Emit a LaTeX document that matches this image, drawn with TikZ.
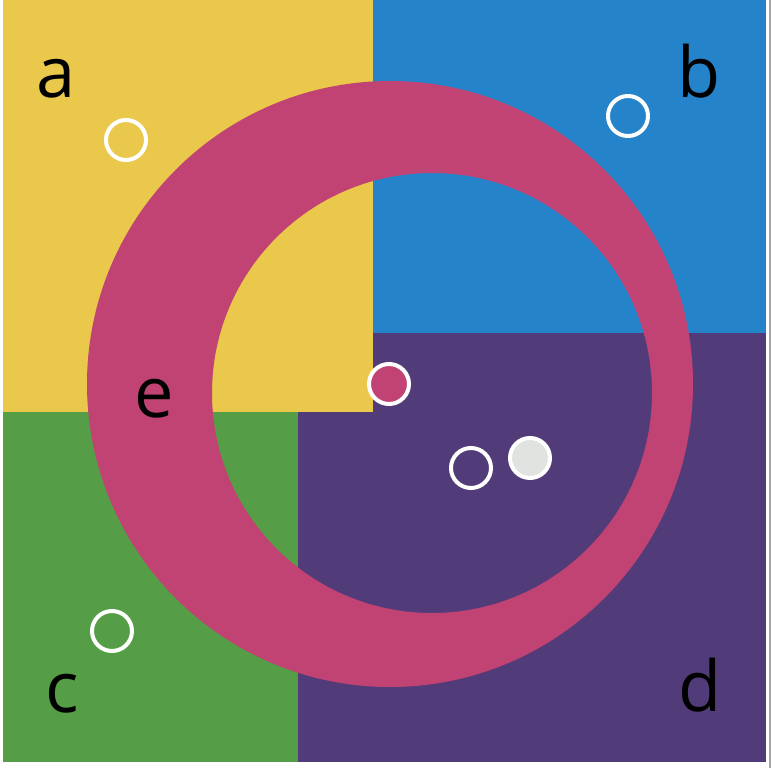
\documentclass[tikz,border=0pt]{standalone}
\usepackage{fontspec}
\setsansfont{Open Sans}
\usepackage{tikz}
\usetikzlibrary{positioning}
\definecolor{zoneA}{RGB}{233,200,75}
\definecolor{zoneB}{RGB}{36,131,201}
\definecolor{zoneC}{RGB}{85,157,70}
\definecolor{zoneD}{RGB}{82,59,121}
\definecolor{ringE}{RGB}{193,67,115}
\definecolor{pebble}{RGB}{224,227,224}
\tikzset{
  zonelbl/.style={font=\sffamily\fontsize{50}{50}\selectfont, text=black, anchor=base, inner sep=0pt},
  openmark/.style={circle, draw=white, line width=1mm, minimum size=10mm, inner sep=0pt},
  fillmark/.style={openmark, fill=#1},
}

\begin{document}
\begin{tikzpicture}[x=0.25mm, y=-0.25mm]
    \useasboundingbox (0,0) rectangle (776,768);
    \fill[white] (0,0) rectangle (776,768);
    % four colour zones
    \fill[zoneA] (3,0) rectangle (373,412);
    \fill[zoneB] (373,0) rectangle (766,333);
    \fill[zoneC] (3,412) rectangle (298,762);
    \fill[zoneD] (298,412) rectangle (766,762);
    \fill[zoneD] (373,333) rectangle (766,412);
    % frame line on the right
    \draw[gray!70, line width=0.6mm] (770,0) -- (770,768);
    % eccentric ring
    \fill[ringE, even odd rule] (390,384) circle (303) (432,393) circle (220);
    % zone labels
    \node[zonelbl] (lblA) at (56,97) {a};
    \node[zonelbl] (lblB) at (699,97) {b};
    \node[zonelbl] (lblC) at (62,712) {c};
    \node[zonelbl] (lblD) at (700,711) {d};
    \node[zonelbl] (lblE) at (154,417) {e};
    % open markers
    \foreach \nm/\px/\py in {mA/126/140, mB/628/116, mD/471/468, mC/112/631} {
      \node[openmark] (\nm) at (\px,\py) {};
    }
    % filled markers
    \node[fillmark=ringE] (mE) at (389,384) {};
    \node[fillmark=pebble] (mP) at (530,458) {};
\end{tikzpicture}
\end{document}
